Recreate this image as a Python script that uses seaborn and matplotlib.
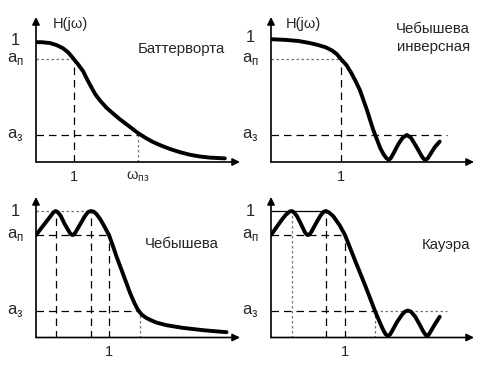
import matplotlib
matplotlib.use("Agg")
import matplotlib.pyplot as plt
import seaborn as sns

# --- данные (частота нормирована к 1, модуль от 0 до 1) ---
butter_w = [0.02, 0.15, 0.37, 0.55, 0.71, 0.85, 0.97, 1.1, 1.24, 1.35, 1.47, 1.57, 1.68, 1.85, 2.03,
            2.2, 2.39, 2.68, 2.88, 3.08, 3.3, 3.53, 3.8, 4.05, 4.3, 4.58, 4.97]
butter_h = [0.99, 0.99, 0.983, 0.965, 0.94, 0.905, 0.86, 0.81, 0.75, 0.68, 0.61, 0.555, 0.51, 0.45, 0.40,
            0.355, 0.31, 0.24, 0.2, 0.165, 0.135, 0.107, 0.08, 0.06, 0.046, 0.036, 0.03]

inv_w = [0.01, 0.2, 0.39, 0.55, 0.67, 0.78, 0.87, 0.94, 1.0, 1.08, 1.15, 1.21, 1.27, 1.32, 1.37, 1.46,
         1.56, 1.61, 1.65, 1.68, 1.71, 1.75, 1.82, 1.88, 1.94, 2.0, 2.08, 2.15, 2.18, 2.21, 2.24,
         2.29, 2.34, 2.41]
inv_h = [0.99, 0.985, 0.976, 0.96, 0.944, 0.925, 0.90, 0.87, 0.83, 0.78, 0.715, 0.65, 0.58, 0.5, 0.42, 0.26,
         0.113, 0.06, 0.03, 0.018, 0.03, 0.07, 0.145, 0.195, 0.218, 0.195, 0.12, 0.05, 0.025, 0.018, 0.03,
         0.075, 0.12, 0.165]

cheb_w = [0.0, 0.14, 0.2, 0.24, 0.27, 0.30, 0.34, 0.39, 0.46, 0.48, 0.5, 0.52, 0.54, 0.61, 0.67, 0.71,
          0.75, 0.79, 0.83, 0.88, 0.93, 1.0, 1.05, 1.10, 1.20, 1.29, 1.35, 1.40, 1.45, 1.51, 1.58, 1.65,
          1.79, 2.0, 2.3, 2.61]
cheb_h = [0.81, 0.915, 0.96, 0.99, 1.0, 0.99, 0.96, 0.9, 0.83, 0.815, 0.81, 0.815, 0.83, 0.9, 0.96, 0.99,
          1.0, 0.995, 0.975, 0.935, 0.885, 0.81, 0.73, 0.645, 0.49, 0.35, 0.27, 0.215, 0.18, 0.155, 0.135, 0.118,
          0.097, 0.077, 0.057, 0.042]

cauer_w = [0.0, 0.145, 0.2, 0.25, 0.28, 0.31, 0.35, 0.39, 0.46, 0.48, 0.50, 0.52, 0.54, 0.62, 0.67, 0.71,
           0.74, 0.78, 0.84, 0.93, 1.0, 1.135, 1.27, 1.405, 1.47, 1.52, 1.55, 1.58, 1.61, 1.64, 1.70, 1.77,
           1.81, 1.85, 1.89, 1.95, 2.02, 2.06, 2.09, 2.11, 2.13, 2.16, 2.22, 2.28]
cauer_h = [0.81, 0.93, 0.97, 0.995, 1.0, 0.99, 0.96, 0.915, 0.83, 0.815, 0.81, 0.815, 0.83, 0.915, 0.965, 0.993,
           1.0, 0.99, 0.96, 0.885, 0.81, 0.61, 0.415, 0.21, 0.12, 0.055, 0.025, 0.012, 0.025, 0.055, 0.12, 0.18,
           0.205, 0.213, 0.205, 0.164, 0.09, 0.045, 0.02, 0.012, 0.02, 0.05, 0.11, 0.164]

# уровни a_п / a_з и характерные частоты
butter_levels = (0.85, 0.22)
butter_wpz = 2.68
inv_levels = (0.83, 0.22)
cheb_levels = (0.81, 0.21)
cheb_peaks = [0.27, 0.75]
cheb_wz = 1.42
cauer_levels = (0.81, 0.21)
cauer_peaks = [0.28, 0.74]
cauer_wz = 1.405

titles = ["Баттерворта", "Чебышева\nинверсная", "Чебышева", "Кауэра"]

sns.set_style("white")
plt.rcParams['font.family'] = ['Liberation Sans', 'DejaVu Sans']

W, H = 504, 367
fig = plt.figure(figsize=(W / 100, H / 100), dpi=100)

DASH = dict(color='black', lw=0.9, linestyle=(0, (6, 4)))
DOT = dict(color='0.45', lw=0.9, linestyle=(0, (2, 2)))


def make_axes(ox, oy, right, top, sx, sy):
    # ox, oy - начало координат в пикселях; sx, sy - пикселей на единицу
    ax = fig.add_axes([ox / W, (H - oy) / H, (right - ox) / W, (oy - top) / H])
    ax.set_xlim(0, (right - ox) / sx)
    ax.set_ylim(0, (oy - top) / sy)
    ax.axis('off')
    arrow = dict(arrowstyle='-|>', color='black', lw=1.2, mutation_scale=11, shrinkA=0, shrinkB=0)
    ax.annotate('', xy=(1, 0), xytext=(0, 0), xycoords='axes fraction', arrowprops=arrow, annotation_clip=False)
    ax.annotate('', xy=(0, 1), xytext=(0, 0), xycoords='axes fraction', arrowprops=arrow, annotation_clip=False)
    return ax


def ylabel(ax, text, level):
    ax.annotate(text, xy=(0, level), xytext=(-21, 0), textcoords='offset pixels',
                ha='center', va='center', fontsize=12, annotation_clip=False)


def xlabel(ax, text, pos):
    ax.annotate(text, xy=(pos, 0), xytext=(0, -15), textcoords='offset pixels',
                ha='center', va='center', fontsize=10.5, annotation_clip=False)


def curve(ax, w, h):
    sns.lineplot(x=w, y=h, ax=ax, color='black', linewidth=2.8, sort=False,
                 solid_capstyle='round', solid_joinstyle='round')


ap_txt = r"a$_\mathregular{п}$"
az_txt = r"a$_\mathregular{з}$"

# --- Баттерворт ---
ax1 = make_axes(36, 162, 240, 17, 38, 121)
ap, az = butter_levels
ax1.hlines(ap, 0, 1, **DOT)
ax1.vlines(1, 0, ap, **DASH)
ax1.hlines(az, 0, butter_wpz, **DASH)
ax1.vlines(butter_wpz, 0, az, **DOT)
curve(ax1, butter_w, butter_h)
ylabel(ax1, "1", 1.0)
ylabel(ax1, ap_txt, ap)
ylabel(ax1, az_txt, az)
xlabel(ax1, "1", 1)
xlabel(ax1, r"ω$_\mathregular{пз}$", butter_wpz)

# --- инверсный Чебышев ---
ax2 = make_axes(271, 162, 474, 17, 70, 124)
ap, az = inv_levels
ax2.hlines(ap, 0, 1, **DOT)
ax2.vlines(1, 0, ap, **DASH)
ax2.hlines(az, 0, 2.51, **DASH)
curve(ax2, inv_w, inv_h)
ylabel(ax2, "1", 1.0)
ylabel(ax2, ap_txt, ap)
ylabel(ax2, az_txt, az)
xlabel(ax2, "1", 1)

# --- Чебышев ---
ax3 = make_axes(36, 337.5, 240, 197, 73, 126.5)
ap, az = cheb_levels
ax3.hlines(1.0, 0, cheb_peaks[1], **DOT)
ax3.hlines(ap, 0, 1, **DASH)
ax3.vlines(cheb_peaks, 0, 1.0, **DASH)
ax3.vlines(1, 0, ap, **DASH)
ax3.hlines(az, 0, cheb_wz, **DASH)
ax3.vlines(cheb_wz, 0, az, **DOT)
curve(ax3, cheb_w, cheb_h)
ylabel(ax3, "1", 1.0)
ylabel(ax3, ap_txt, ap)
ylabel(ax3, az_txt, az)
xlabel(ax3, "1", 1)

# --- Кауэр ---
ax4 = make_axes(271, 337.5, 474, 197, 74, 126.5)
ap, az = cauer_levels
ax4.hlines(1.0, 0, cauer_peaks[1], color='black', lw=0.9)
ax4.vlines(cauer_peaks[0], 0, 1.0, **DOT)
ax4.vlines(cauer_peaks[1], 0, 1.0, **DASH)
ax4.hlines(ap, 0, 1, **DASH)
ax4.vlines(1, 0, ap, **DASH)
ax4.hlines(az, 0, cauer_wz, **DASH)
ax4.hlines(az, cauer_wz, 2.38, **DOT)
ax4.vlines(cauer_wz, 0, az, **DOT)
curve(ax4, cauer_w, cauer_h)
ylabel(ax4, "1", 1.0)
ylabel(ax4, ap_txt, ap)
ylabel(ax4, az_txt, az)
xlabel(ax4, "1", 1)

# подписи
fig.text(53 / W, 1 - 24 / H, "H(jω)", ha='left', va='center', fontsize=10.5)
fig.text(286 / W, 1 - 24 / H, "H(jω)", ha='left', va='center', fontsize=10.5)
fig.text(138 / W, 1 - 49 / H, titles[0], ha='left', va='center', fontsize=10.8)
fig.text(470 / W, 1 - 38 / H, titles[1], ha='right', va='center', fontsize=10.8, linespacing=1.4)
fig.text(145 / W, 1 - 244 / H, titles[2], ha='left', va='center', fontsize=10.8)
fig.text(422 / W, 1 - 245 / H, titles[3], ha='left', va='center', fontsize=10.8)

fig.savefig("out.png", dpi=100)
